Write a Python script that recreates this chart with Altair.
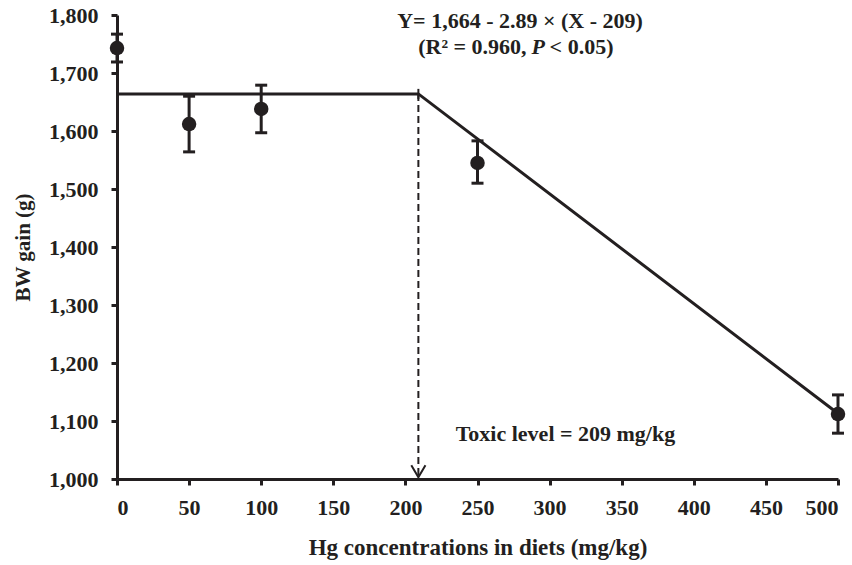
import altair as alt
import pandas as pd

# Observed data
hg = [0, 50, 100, 250, 500]
bw = [1743, 1612, 1638, 1545, 1112]
err_hi = [1767, 1660, 1679, 1583, 1145]
err_lo = [1719, 1564, 1597, 1510, 1079]

# Broken-line fit as drawn
fit_x = [0, 209, 500]
fit_y = [1664, 1664, 1113]

toxic_x = 209
toxic_y = 1664
axis_min = 1000

x_ticks = list(range(0, 501, 50))
y_ticks = list(range(1000, 1801, 100))

FONT = "Liberation Serif"
INK = "#231f20"

df = pd.DataFrame({"x": hg, "y": bw, "hi": err_hi, "lo": err_lo})
fit = pd.DataFrame({"x": fit_x, "y": fit_y})
thr = pd.DataFrame({"x": [toxic_x], "y": [toxic_y], "y0": [axis_min + 3]})

xs = alt.Scale(domain=[0, 500], nice=False, zero=False)
ys = alt.Scale(domain=[1000, 1800], nice=False, zero=False)

xax = alt.Axis(values=x_ticks, title="Hg concentrations in diets (mg/kg)", grid=False,
               labelPadding=12, titlePadding=18, titleFontSize=23)
yax = alt.Axis(values=y_ticks, format=",.0f", title="BW gain (g)", grid=False,
               labelPadding=13, titlePadding=15, titleFontSize=21)


def xq(f):
    return alt.X(f, scale=xs, axis=xax)


def yq(f):
    return alt.Y(f, scale=ys, axis=yax)


line = alt.Chart(fit).mark_line(color=INK, strokeWidth=3).encode(x=xq("x:Q"), y=yq("y:Q"))

bars = alt.Chart(df).mark_rule(color=INK, strokeWidth=3).encode(
    x=xq("x:Q"), y=yq("lo:Q"), y2="hi:Q")
cap_hi = alt.Chart(df).mark_tick(color=INK, orient="horizontal", size=12, thickness=3, opacity=1).encode(
    x=xq("x:Q"), y=yq("hi:Q"))
cap_lo = alt.Chart(df).mark_tick(color=INK, orient="horizontal", size=12, thickness=3, opacity=1).encode(
    x=xq("x:Q"), y=yq("lo:Q"))
pts = alt.Chart(df).mark_circle(color=INK, size=210, opacity=1).encode(x=xq("x:Q"), y=yq("y:Q"))

dash = alt.Chart(thr).mark_rule(color=INK, strokeWidth=2, strokeDash=[7, 4]).encode(
    x=xq("x:Q"), y=yq("y:Q"), y2="y0:Q")
arrow = alt.Chart(thr).mark_point(
    shape="M-1,-1.7L0,0L1,-1.7", filled=False, color=INK, strokeWidth=2, size=200, opacity=1
).encode(x=xq("x:Q"), y=yq("y0:Q"))
corner = alt.Chart(thr).mark_tick(color=INK, orient="vertical", size=10, thickness=2, opacity=1).encode(
    x=xq("x:Q"), y=yq("y:Q"))

ann = pd.DataFrame({
    "x": [279.5, 284, 287.5, 300, 311],
    "y": [1790, 1745, 1745, 1745, 1078],
    "t": ["Y= 1,664 - 2.89 × (X - 209)", "(R² = 0.960,", "P", "< 0.05)", "Toxic level = 209 mg/kg"],
})


def txt(i, align, style="normal"):
    return alt.Chart(ann.iloc[[i]]).mark_text(
        font=FONT, fontSize=22, fontWeight="bold", fontStyle=style, color=INK,
        align=align, baseline="middle"
    ).encode(x=xq("x:Q"), y=yq("y:Q"), text="t:N")


texts = txt(0, "center") + txt(1, "right") + txt(2, "left", "italic") + txt(3, "left") + txt(4, "center")

chart = alt.layer(line, bars, cap_hi, cap_lo, pts, dash, arrow, corner, texts).properties(
    width=721, height=464,
    autosize=alt.AutoSizeParams(type="none"),
    padding={"left": 117, "top": 15, "right": 14, "bottom": 86},
).configure_view(stroke=None).configure_axis(
    domainColor=INK, domainWidth=3, tickColor=INK, tickWidth=3, tickSize=6,
    labelFont=FONT, labelFontSize=22, labelFontWeight="bold", labelColor=INK,
    titleFont=FONT, titleFontWeight="bold", titleColor=INK,
)

chart.save("out.html", embed_options={"renderer": "svg", "actions": False})
